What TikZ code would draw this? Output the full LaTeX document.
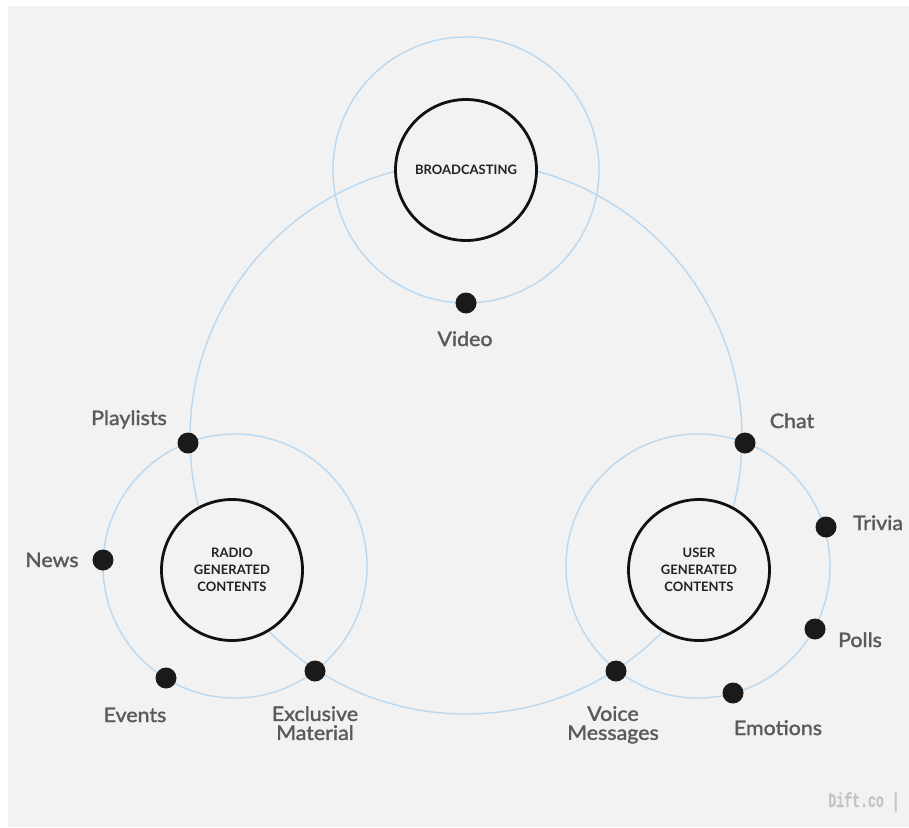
\documentclass[tikz,border=0pt]{standalone}
\usepackage{fontspec}
\setmainfont{Lato}
\newfontfamily\lblfont[FakeBold=1.6,FakeStretch=1.07]{Lato}
\newfontfamily\wmfont[FakeBold=1]{Liberation Mono}
\definecolor{bggray}{HTML}{F2F2F2}
\definecolor{ringblue}{HTML}{BAD8EF}
\definecolor{dotblack}{HTML}{1A1A1A}
\definecolor{hubblack}{HTML}{111111}
\definecolor{titlecol}{HTML}{222222}
\definecolor{lblgray}{HTML}{5A5A5A}
\definecolor{wmgray}{HTML}{C4C4C4}
\begin{document}
\begin{tikzpicture}[x=1pt,y=-1pt,
  ring/.style={draw=ringblue, line width=1.4pt},
  hub/.style={circle, draw=hubblack, line width=2.8pt, fill=bggray, minimum size=141pt, inner sep=0pt, align=center, text=titlecol, font=\fontsize{13}{17}\selectfont\bfseries},
  dot/.style={circle, fill=dotblack, minimum size=21pt, inner sep=0pt},
  lbl/.style={font=\lblfont\fontsize{20}{19}\selectfont, text=lblgray, anchor=base, inner sep=0pt},
  lbltwo/.style={font=\lblfont\fontsize{20}{19}\selectfont, text=lblgray, anchor=north, align=center, inner sep=0pt}]
\useasboundingbox (0,0) rectangle (909,827);
\fill[white] (0,0) rectangle (909,827);
\fill[bggray] (8,6) rectangle (909,827);
% ring centres
\coordinate (bigc) at (466,438);
\coordinate (bc) at (466,170);
\coordinate (rc) at (235,566);
\coordinate (uc) at (698,566);
% blue rings
\draw[ring] (bigc) circle[radius=276pt];
\draw[ring] (bc) circle[radius=133pt];
\draw[ring] (rc) circle[radius=132pt];
\draw[ring] (uc) circle[radius=132pt];
% hubs
\node[hub] (broad) at (466,170) {BROADCASTING};
\node[hub] (radio) at (232,570) {RADIO\\GENERATED\\CONTENTS};
\node[hub] (user) at (699,570) {USER\\GENERATED\\CONTENTS};
% dots
\node[dot] (dvideo) at (466,303) {};
\node[dot] (dplay) at (188,443) {};
\node[dot] (dnews) at (103,560) {};
\node[dot] (devents) at (166,678) {};
\node[dot] (dexcl) at (315,671) {};
\node[dot] (dchat) at (745,443) {};
\node[dot] (dtrivia) at (826,527) {};
\node[dot] (dpolls) at (815,629) {};
\node[dot] (demo) at (733,693) {};
\node[dot] (dvoice) at (616,671) {};
% labels
\node[lbl] (lvideo) at (465,346) {Video};
\node[lbl] (lplay) at (129,425) {Playlists};
\node[lbl] (lnews) at (52,567) {News};
\node[lbl] (levents) at (135,722) {Events};
\node[lbltwo] (lexcl) at (315,706) {Exclusive\\Material};
\node[lbl] (lchat) at (792,428) {Chat};
\node[lbl] (ltrivia) at (878,530) {Trivia};
\node[lbl] (lpolls) at (860,647) {Polls};
\node[lbl] (lemo) at (778,735) {Emotions};
\node[lbltwo] (lvoice) at (613,706) {Voice\\Messages};
% watermark
\node[text=wmgray, font=\wmfont\bfseries\fontsize{20}{20}\selectfont, anchor=base, inner sep=0pt] (wm) at (864,807) {\scalebox{0.66}[1]{Dift.co |}};
\end{tikzpicture}
\end{document}
